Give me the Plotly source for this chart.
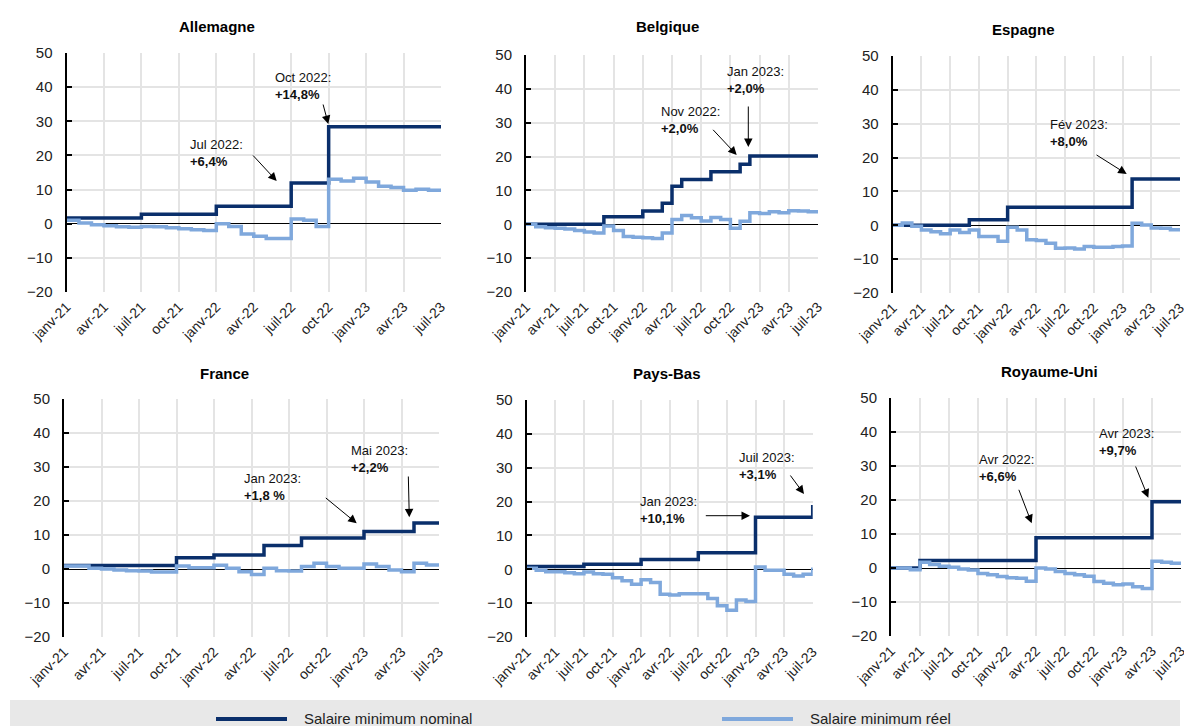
import plotly.graph_objects as go

W, H = 1184, 726

months = ["janv-21", "févr-21", "mars-21", "avr-21", "mai-21", "juin-21", "juil-21", "août-21",
          "sept-21", "oct-21", "nov-21", "déc-21", "janv-22", "févr-22", "mars-22", "avr-22",
          "mai-22", "juin-22", "juil-22", "août-22", "sept-22", "oct-22", "nov-22", "déc-22",
          "janv-23", "févr-23", "mars-23", "avr-23", "mai-23", "juin-23", "juil-23"]
tick_labels = ["janv-21", "avr-21", "juil-21", "oct-21", "janv-22", "avr-22", "juil-22",
               "oct-22", "janv-23", "avr-23", "juil-23"]
y_ticks = [-20, -10, 0, 10, 20, 30, 40, 50]

countries = ["Allemagne", "Belgique", "Espagne", "France", "Pays-Bas", "Royaume-Uni"]

de_nominal = [1.7, 1.7, 1.7, 1.7, 1.7, 1.7, 2.8, 2.8, 2.8, 2.8, 2.8, 2.8, 5.1, 5.1, 5.1, 5.1,
              5.1, 5.1, 11.9, 11.9, 11.9, 28.4, 28.4, 28.4, 28.4, 28.4, 28.4, 28.4, 28.4, 28.4, 28.4]
de_real = [1.0, 0.2, -0.3, -0.6, -0.9, -1.0, -0.8, -0.9, -1.2, -1.5, -1.8, -2.0, 0.0, -0.8, -3.0,
           -3.7, -4.3, -4.3, 1.4, 1.0, -0.8, 13.0, 12.5, 13.3, 12.2, 11.0, 10.6, 9.8, 10.1, 9.8, 9.5]

be_nominal = [0.0, 0.0, 0.0, 0.0, 0.0, 0.0, 0.0, 0.0, 2.2, 2.2, 2.2, 2.2, 3.9, 3.9, 6.2, 11.2,
              13.2, 13.2, 13.2, 15.5, 15.5, 15.5, 17.7, 20.2, 20.2, 20.2, 20.2, 20.2, 20.2, 20.2, 20.2]
be_real = [0.0, -0.7, -1.0, -1.2, -1.4, -1.8, -2.3, -2.6, -0.5, -1.8, -3.6, -3.8, -4.0, -4.2, -2.6,
           1.4, 2.6, 1.9, 1.0, 2.0, 1.4, -1.2, 0.9, 3.4, 3.2, 3.7, 3.4, 4.0, 3.9, 3.7, 3.2]

es_nominal = [0.0, 0.0, 0.0, 0.0, 0.0, 0.0, 0.0, 0.0, 1.6, 1.6, 1.6, 1.6, 5.3, 5.3, 5.3, 5.3,
              5.3, 5.3, 5.3, 5.3, 5.3, 5.3, 5.3, 5.3, 5.3, 13.7, 13.7, 13.7, 13.7, 13.7, 13.7]
es_real = [0.0, 0.7, -0.3, -1.4, -1.9, -2.5, -1.4, -2.1, -1.4, -3.3, -3.3, -4.7, -0.6, -1.4, -4.3,
           -4.5, -5.3, -6.8, -6.7, -7.0, -6.3, -6.5, -6.5, -6.3, -6.1, 0.6, 0.1, -0.8, -0.9, -1.3, -1.6]

fr_nominal = [1.0, 1.0, 1.0, 1.0, 1.0, 1.0, 1.0, 1.0, 1.0, 3.3, 3.3, 3.3, 4.1, 4.1, 4.1, 4.1,
              6.9, 6.9, 6.9, 9.1, 9.1, 9.1, 9.1, 9.1, 11.0, 11.0, 11.0, 11.0, 13.5, 13.5, 13.5]
fr_real = [0.9, 0.9, 0.2, 0.0, -0.3, -0.5, -0.6, -0.9, -0.9, 0.9, 0.4, 0.4, 1.1, 0.2, -0.8, -1.6,
           0.2, -0.5, -0.6, 0.7, 1.7, 0.7, 0.2, 0.2, 1.5, 0.7, -0.3, -0.8, 1.7, 1.2, 1.2]

nl_nominal = [0.8, 0.8, 0.8, 0.8, 0.8, 0.8, 1.5, 1.5, 1.5, 1.5, 1.5, 1.5, 2.9, 2.9, 2.9, 2.9,
              2.9, 2.9, 4.9, 4.9, 4.9, 4.9, 4.9, 4.9, 15.4, 15.4, 15.4, 15.4, 15.4, 15.4, 19.0]
nl_real = [0.3, -0.3, -0.7, -0.7, -1.0, -1.3, -0.8, -1.3, -1.5, -2.5, -3.4, -4.4, -3.1, -3.9, -7.4,
           -7.6, -7.2, -7.2, -7.2, -8.6, -10.8, -12.1, -9.1, -9.5, 0.7, -0.3, -0.3, -1.5, -2.0, -1.5, 0.5]

uk_nominal = [0.0, 0.0, 0.0, 2.2, 2.2, 2.2, 2.2, 2.2, 2.2, 2.2, 2.2, 2.2, 2.2, 2.2, 2.2, 8.9,
              8.9, 8.9, 8.9, 8.9, 8.9, 8.9, 8.9, 8.9, 8.9, 8.9, 8.9, 19.5, 19.5, 19.5, 19.5]
uk_real = [0.0, 0.0, -0.5, 1.7, 1.0, 0.5, 0.2, -0.3, -0.6, -1.6, -2.0, -2.5, -2.9, -3.0, -3.9,
           0.0, -0.3, -1.0, -1.6, -2.0, -2.4, -4.0, -4.5, -4.9, -4.7, -5.5, -6.0, 2.0, 1.7, 1.4, 1.7]

nominal = [de_nominal, be_nominal, es_nominal, fr_nominal, nl_nominal, uk_nominal]
real = [de_real, be_real, es_real, fr_real, nl_real, uk_real]

NAVY = "#0a2f6b"
LIGHT = "#7fa8dc"
FONT = "Liberation Sans, Arial, sans-serif"

# plot-area boxes in pixels: left, right, top, bottom
boxes = [(66.5, 441, 53, 292), (526, 818, 55, 292), (892.7, 1180, 56, 293),
         (64, 439, 399, 637), (526.7, 812.7, 400, 637), (891, 1181, 398, 636)]
title_pos = [(217, 26), (667, 27), (1023, 30), (224, 373), (667, 373), (1049, 372)]


def px(x):
    return x / W


def py(y):
    return 1 - y / H


x_idx = list(range(len(months)))
tick_idx = [months.index(t) for t in tick_labels]

fig = go.Figure()
layout = dict(width=W, height=H, margin=dict(l=0, r=0, t=0, b=0, autoexpand=False),
              paper_bgcolor="white", plot_bgcolor="white", showlegend=False,
              font=dict(family=FONT, color="#222", size=14))

annotations = []
for i, (name, box) in enumerate(zip(countries, boxes)):
    n = "" if i == 0 else str(i + 1)
    l, r, t, b = box
    layout["xaxis" + n] = dict(domain=[px(l), px(r)], range=[0, 30], anchor="y" + n,
                               automargin=False, ticklabeloverflow="allow",
                               ticklabelstandoff=3,
                               tickvals=tick_idx, ticktext=tick_labels, tickangle=-45,
                               showgrid=True, gridcolor="#e4e4e4", gridwidth=2,
                               zeroline=False, showline=False, ticks="",
                               tickfont=dict(size=14, family=FONT, color="#222"))
    layout["yaxis" + n] = dict(domain=[py(b), py(t)], range=[-20, 50], anchor="x" + n,
                               automargin=False, ticklabeloverflow="allow",
                               ticklabelstandoff=9,
                               tickvals=y_ticks, showgrid=True, gridcolor="#e4e4e4", gridwidth=2,
                               zeroline=True, zerolinecolor="black", zerolinewidth=1.3,
                               showline=True, linecolor="black", linewidth=2,
                               ticks="inside", ticklen=5, tickwidth=2, tickcolor="black",
                               tickfont=dict(size=15, family=FONT, color="#222"))
    fig.add_trace(go.Scatter(x=x_idx, y=nominal[i], mode="lines", line_shape="hv",
                             line=dict(color=NAVY, width=3.5), name="Salaire minimum nominal",
                             xaxis="x" + n, yaxis="y" + n))
    fig.add_trace(go.Scatter(x=x_idx, y=real[i], mode="lines", line_shape="hv",
                             line=dict(color=LIGHT, width=3.5), name="Salaire minimum réel",
                             xaxis="x" + n, yaxis="y" + n))
    tx, ty = title_pos[i]
    annotations.append(dict(text="<b>" + name + "</b>", x=px(tx), y=py(ty), xref="paper",
                            yref="paper", xanchor="center", yanchor="middle", showarrow=False,
                            font=dict(size=15, family=FONT, color="black")))

# callouts: (label, value, text-left, text-center-y, arrow tail, arrow head)
callouts = [
    ("Oct 2022:", "+14,8%", 273, 86.5, (322.7, 103), (328.3, 124)),
    ("Jul 2022:", "+6,4%", 188, 152.5, (251.7, 154), (276.7, 181)),
    ("Jan 2023:", "+2,0%", 725, 80.5, (748.3, 105), (748.3, 147)),
    ("Nov 2022:", "+2,0%", 659, 120, (711.7, 128.3), (736.7, 155)),
    ("Fév 2023:", "+8,0%", 1048, 133, (1095, 154), (1126.7, 174)),
    ("Jan 2023:", "+1,8 %", 242, 486.5, (324.3, 496.7), (356.7, 523.3)),
    ("Mai 2023:", "+2,2%", 349, 459, (408.3, 475), (409.3, 517.3)),
    ("Juil 2023:", "+3,1%", 737, 466, (789.3, 474), (804, 494)),
    ("Jan 2023:", "+10,1%", 638, 509.5, (704.3, 515.7), (750, 515.7)),
    ("Avr 2022:", "+6,6%", 976.5, 467.5, (1018.3, 488.3), (1031.7, 523.3)),
    ("Avr 2023:", "+9,7%", 1096.5, 442, (1135, 465), (1148.3, 497.7)),
]
for lab, val, tx, ty, tail, head in callouts:
    annotations.append(dict(text=lab + "<br><b>" + val + "</b>", x=px(tx), y=py(ty),
                            xref="paper", yref="paper", xanchor="left", yanchor="middle",
                            align="left", showarrow=False,
                            font=dict(size=13, family=FONT, color="#111")))
    annotations.append(dict(text="", x=px(head[0]), y=py(head[1]), xref="paper", yref="paper",
                            ax=tail[0] - head[0], ay=tail[1] - head[1], showarrow=True,
                            arrowhead=2, arrowsize=1.7, arrowwidth=1, arrowcolor="black",
                            standoff=0))

# legend band
shapes = [dict(type="rect", xref="paper", yref="paper", x0=px(10), x1=px(1180), y0=py(727),
               y1=py(700), fillcolor="#e8e8e8", line=dict(width=0), layer="below"),
          dict(type="line", xref="paper", yref="paper", x0=px(216), x1=px(287), y0=py(719),
               y1=py(719), line=dict(color=NAVY, width=4)),
          dict(type="line", xref="paper", yref="paper", x0=px(722), x1=px(793), y0=py(719),
               y1=py(719), line=dict(color=LIGHT, width=4))]
annotations.append(dict(text="Salaire minimum nominal", x=px(302), y=py(718), xref="paper",
                        yref="paper", xanchor="left", yanchor="middle", showarrow=False,
                        font=dict(size=15, family=FONT, color="#222")))
annotations.append(dict(text="Salaire minimum réel", x=px(808), y=py(718), xref="paper",
                        yref="paper", xanchor="left", yanchor="middle", showarrow=False,
                        font=dict(size=15, family=FONT, color="#222")))

layout["annotations"] = annotations
layout["shapes"] = shapes
fig.update_layout(**layout)
fig.write_html("out.html", config={"displayModeBar": False},
               post_script="document.body.style.margin='0';document.body.style.overflow='hidden';")
